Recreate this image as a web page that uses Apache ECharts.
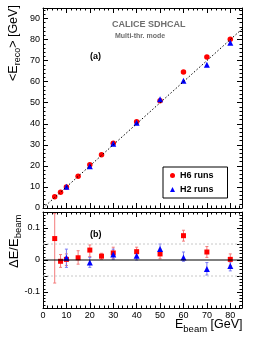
<!DOCTYPE html>
<html><head><meta charset="utf-8">
<script src="https://cdn.jsdelivr.net/npm/echarts@6/dist/echarts.min.js"></script>
<style>html,body{margin:0;padding:0;background:#fff}#c{width:258px;height:337px}</style>
</head><body><div id="c"></div>
<script>
// ---- data ----
const h6Energy = [5, 7.5, 10, 15, 20, 25, 30, 40, 50, 60, 70, 80];
const h6Reco   = [5.33, 7.47, 10.02, 15.1, 20.6, 25.3, 30.7, 41.0, 50.95, 64.6, 71.75, 80.2];
const h6Dev    = [0.067, -0.004, 0.002, 0.007, 0.031, 0.012, 0.022, 0.026, 0.019, 0.076, 0.025, 0.002];
const h6Low    = [-0.072, -0.023, -0.017, -0.013, 0.011, 0.002, 0.005, 0.010, 0.004, 0.059, 0.008, -0.017];
const h6High   = [0.145, 0.017, 0.019, 0.029, 0.047, 0.021, 0.040, 0.040, 0.034, 0.093, 0.042, 0.019];

const h2Energy = [10, 20, 30, 40, 50, 60, 70, 80];
const h2Reco   = [10.07, 19.84, 30.5, 40.5, 51.7, 60.5, 68.0, 78.5];
const h2Dev    = [0.007, -0.008, 0.017, 0.013, 0.034, 0.008, -0.028, -0.019];
const h2Low    = [-0.023, -0.023, 0.002, 0.000, 0.017, -0.004, -0.047, -0.034];
const h2High   = [0.034, 0.008, 0.034, 0.027, 0.050, 0.025, -0.008, -0.006];

const diagonal = [[0, 0], [85, 85]];
const refLines = [0, 0.05, -0.05];
const xRange = [0, 85];
const yTopRange = [0, 95];
const yBotRange = [-0.15, 0.15];

// ---- helpers ----
const FONT = 'Liberation Sans, Arial, Helvetica, sans-serif';
const cv = document.createElement('canvas').getContext('2d');
function tw(t, size, bold) { cv.font = (bold ? 'bold ' : '') + size + 'px ' + FONT; return cv.measureText(t).width; }

function axis(gridIndex, position, range, interval, minorSplit, labelFmt) {
  return {
    type: 'value', gridIndex, position, min: range[0], max: range[1], interval,
    axisLine: { show: true, onZero: false, lineStyle: { color: '#000', width: 1 } },
    axisTick: { show: true, inside: true, length: 5, lineStyle: { color: '#000' } },
    minorTick: { show: true, splitNumber: minorSplit, length: 2.5, lineStyle: { color: '#000' } },
    splitLine: { show: false },
    axisLabel: labelFmt ? { show: true, formatter: labelFmt, showMaxLabel: false, showMinLabel: true, fontSize: 9, color: '#000', fontFamily: FONT, margin: 3 } : { show: false }
  };
}
const botYLabel = v => {
  const r = Math.round(v * 10);
  if (Math.abs(v * 10 - r) > 1e-6) return '';
  return r === 0 ? '0' : (r / 10).toString();
};

function errItem(color) {
  return function (params, api) {
    const x = api.value(0), lo = api.value(1), hi = api.value(2);
    const p1 = api.coord([x, lo]), p2 = api.coord([x, hi]);
    const c = 1.5;
    const st = { stroke: color, lineWidth: 1 };
    return { type: 'group', children: [
      { type: 'line', shape: { x1: p1[0], y1: p1[1], x2: p2[0], y2: p2[1] }, style: st },
      { type: 'line', shape: { x1: p1[0] - c, y1: p1[1], x2: p1[0] + c, y2: p1[1] }, style: st },
      { type: 'line', shape: { x1: p2[0] - c, y1: p2[1], x2: p2[0] + c, y2: p2[1] }, style: st }
    ] };
  };
}

const zip = (a, b) => a.map((v, i) => [v, b[i]]);
const zip3 = (a, b, c) => a.map((v, i) => [v, b[i], c[i]]);

// ---- text graphics ----
function titleGroup(x, y, rot, parts) {
  let off = 0; const children = [];
  parts.forEach(p => {
    children.push({ type: 'text', x: off, y: p.dy || 0,
      style: { text: p.t, font: (p.b ? 'bold ' : '') + p.s + 'px ' + FONT, fill: '#000', align: 'left', verticalAlign: 'middle' } });
    off += tw(p.t, p.s, p.b);
  });
  return { type: 'group', x, y, rotation: rot, children };
}

const chart = echarts.init(document.getElementById('c'), null, { renderer: 'canvas' });
const option = {
  animation: false,
  backgroundColor: '#fff',
  grid: [
    { left: 43, top: 8, width: 199, height: 200, show: false },
    { left: 43, top: 212, width: 199, height: 96, show: false }
  ],
  xAxis: [
    axis(0, 'bottom', xRange, 10, 5, null),
    axis(0, 'top', xRange, 10, 5, null),
    axis(1, 'bottom', xRange, 10, 5, v => String(v)),
    axis(1, 'top', xRange, 10, 5, null)
  ],
  yAxis: [
    axis(0, 'left', yTopRange, 10, 5, v => String(v)),
    axis(0, 'right', yTopRange, 10, 5, null),
    axis(1, 'left', yBotRange, 0.05, 5, botYLabel),
    axis(1, 'right', yBotRange, 0.05, 5, null)
  ],
  legend: {
    left: 163, top: 167, orient: 'vertical',
    data: [{ name: 'H6 runs', icon: 'circle' }, { name: 'H2 runs', icon: 'triangle' }],
    itemWidth: 5, itemHeight: 5, itemGap: 5,
    padding: [4, 14, 4, 7],
    borderColor: '#000', borderWidth: 1,
    textStyle: { fontSize: 9, fontWeight: 'bold', fontFamily: FONT, color: '#000' }
  },
  series: [
    { type: 'line', xAxisIndex: 0, yAxisIndex: 0, data: diagonal, symbol: 'none', silent: true,
      lineStyle: { color: '#000', width: 1, type: [1.5, 2] } },
    { type: 'scatter', name: 'H6 runs', xAxisIndex: 0, yAxisIndex: 0, data: zip(h6Energy, h6Reco), symbol: 'circle', symbolSize: 5.5, itemStyle: { color: '#ff0000', opacity: 1 } },
    { type: 'scatter', name: 'H2 runs', xAxisIndex: 0, yAxisIndex: 0, data: zip(h2Energy, h2Reco), symbol: 'triangle', symbolSize: 6, itemStyle: { color: '#0000ff', opacity: 1 } },
    // reference lines bottom
    { type: 'line', xAxisIndex: 2, yAxisIndex: 2, data: zip(xRange, [refLines[0], refLines[0]]), symbol: 'none', silent: true, lineStyle: { color: '#000', width: 1.2 } },
    { type: 'line', xAxisIndex: 2, yAxisIndex: 2, data: zip(xRange, [refLines[1], refLines[1]]), symbol: 'none', silent: true, lineStyle: { color: '#c8c8c8', width: 1, type: [2, 2] } },
    { type: 'line', xAxisIndex: 2, yAxisIndex: 2, data: zip(xRange, [refLines[2], refLines[2]]), symbol: 'none', silent: true, lineStyle: { color: '#c8c8c8', width: 1, type: [2, 2] } },
    { type: 'custom', name: 'h6err', xAxisIndex: 2, yAxisIndex: 2, data: zip3(h6Energy, h6Low, h6High), renderItem: errItem('#f47a7a'), clip: true, silent: true },
    { type: 'custom', name: 'h2err', xAxisIndex: 2, yAxisIndex: 2, data: zip3(h2Energy, h2Low, h2High), renderItem: errItem('#7a7af4'), clip: true, silent: true },
    { type: 'scatter', name: 'H6 dev', xAxisIndex: 2, yAxisIndex: 2, data: zip(h6Energy, h6Dev), symbol: 'rect', symbolSize: 5, itemStyle: { color: '#ff0000', opacity: 1 } },
    { type: 'scatter', name: 'H2 dev', xAxisIndex: 2, yAxisIndex: 2, data: zip(h2Energy, h2Dev), symbol: 'triangle', symbolSize: 6, itemStyle: { color: '#0000ff', opacity: 1 } }
  ],
  graphic: [
    { type: 'text', left: 112, top: 20, style: { text: 'CALICE SDHCAL', font: 'bold 9px ' + FONT, fill: '#6e6e6e' } },
    { type: 'text', left: 115, top: 33, style: { text: 'Multi-thr. mode', font: 'bold 7px ' + FONT, fill: '#6e6e6e' } },
    { type: 'text', left: 90, top: 52, style: { text: '(a)', font: 'bold 9px ' + FONT, fill: '#000' } },
    { type: 'text', left: 90, top: 230, style: { text: '(b)', font: 'bold 9px ' + FONT, fill: '#000' } },
    titleGroup(14, 81, Math.PI / 2, [
      { t: '<E', s: 12.5 }, { t: 'reco', s: 9, dy: 4 }, { t: '> [GeV]', s: 12.5 }
    ]),
    titleGroup(14, 268, Math.PI / 2, [
      { t: '\u0394E/E', s: 13 }, { t: 'beam', s: 9.5, dy: 4.5 }
    ]),
    titleGroup(175, 325, 0, [
      { t: 'E', s: 12.5 }, { t: 'beam', s: 9.5, dy: 4.5 }, { t: ' [GeV]', s: 12.5 }
    ])
  ]
};
chart.setOption(option);
</script></body></html>
